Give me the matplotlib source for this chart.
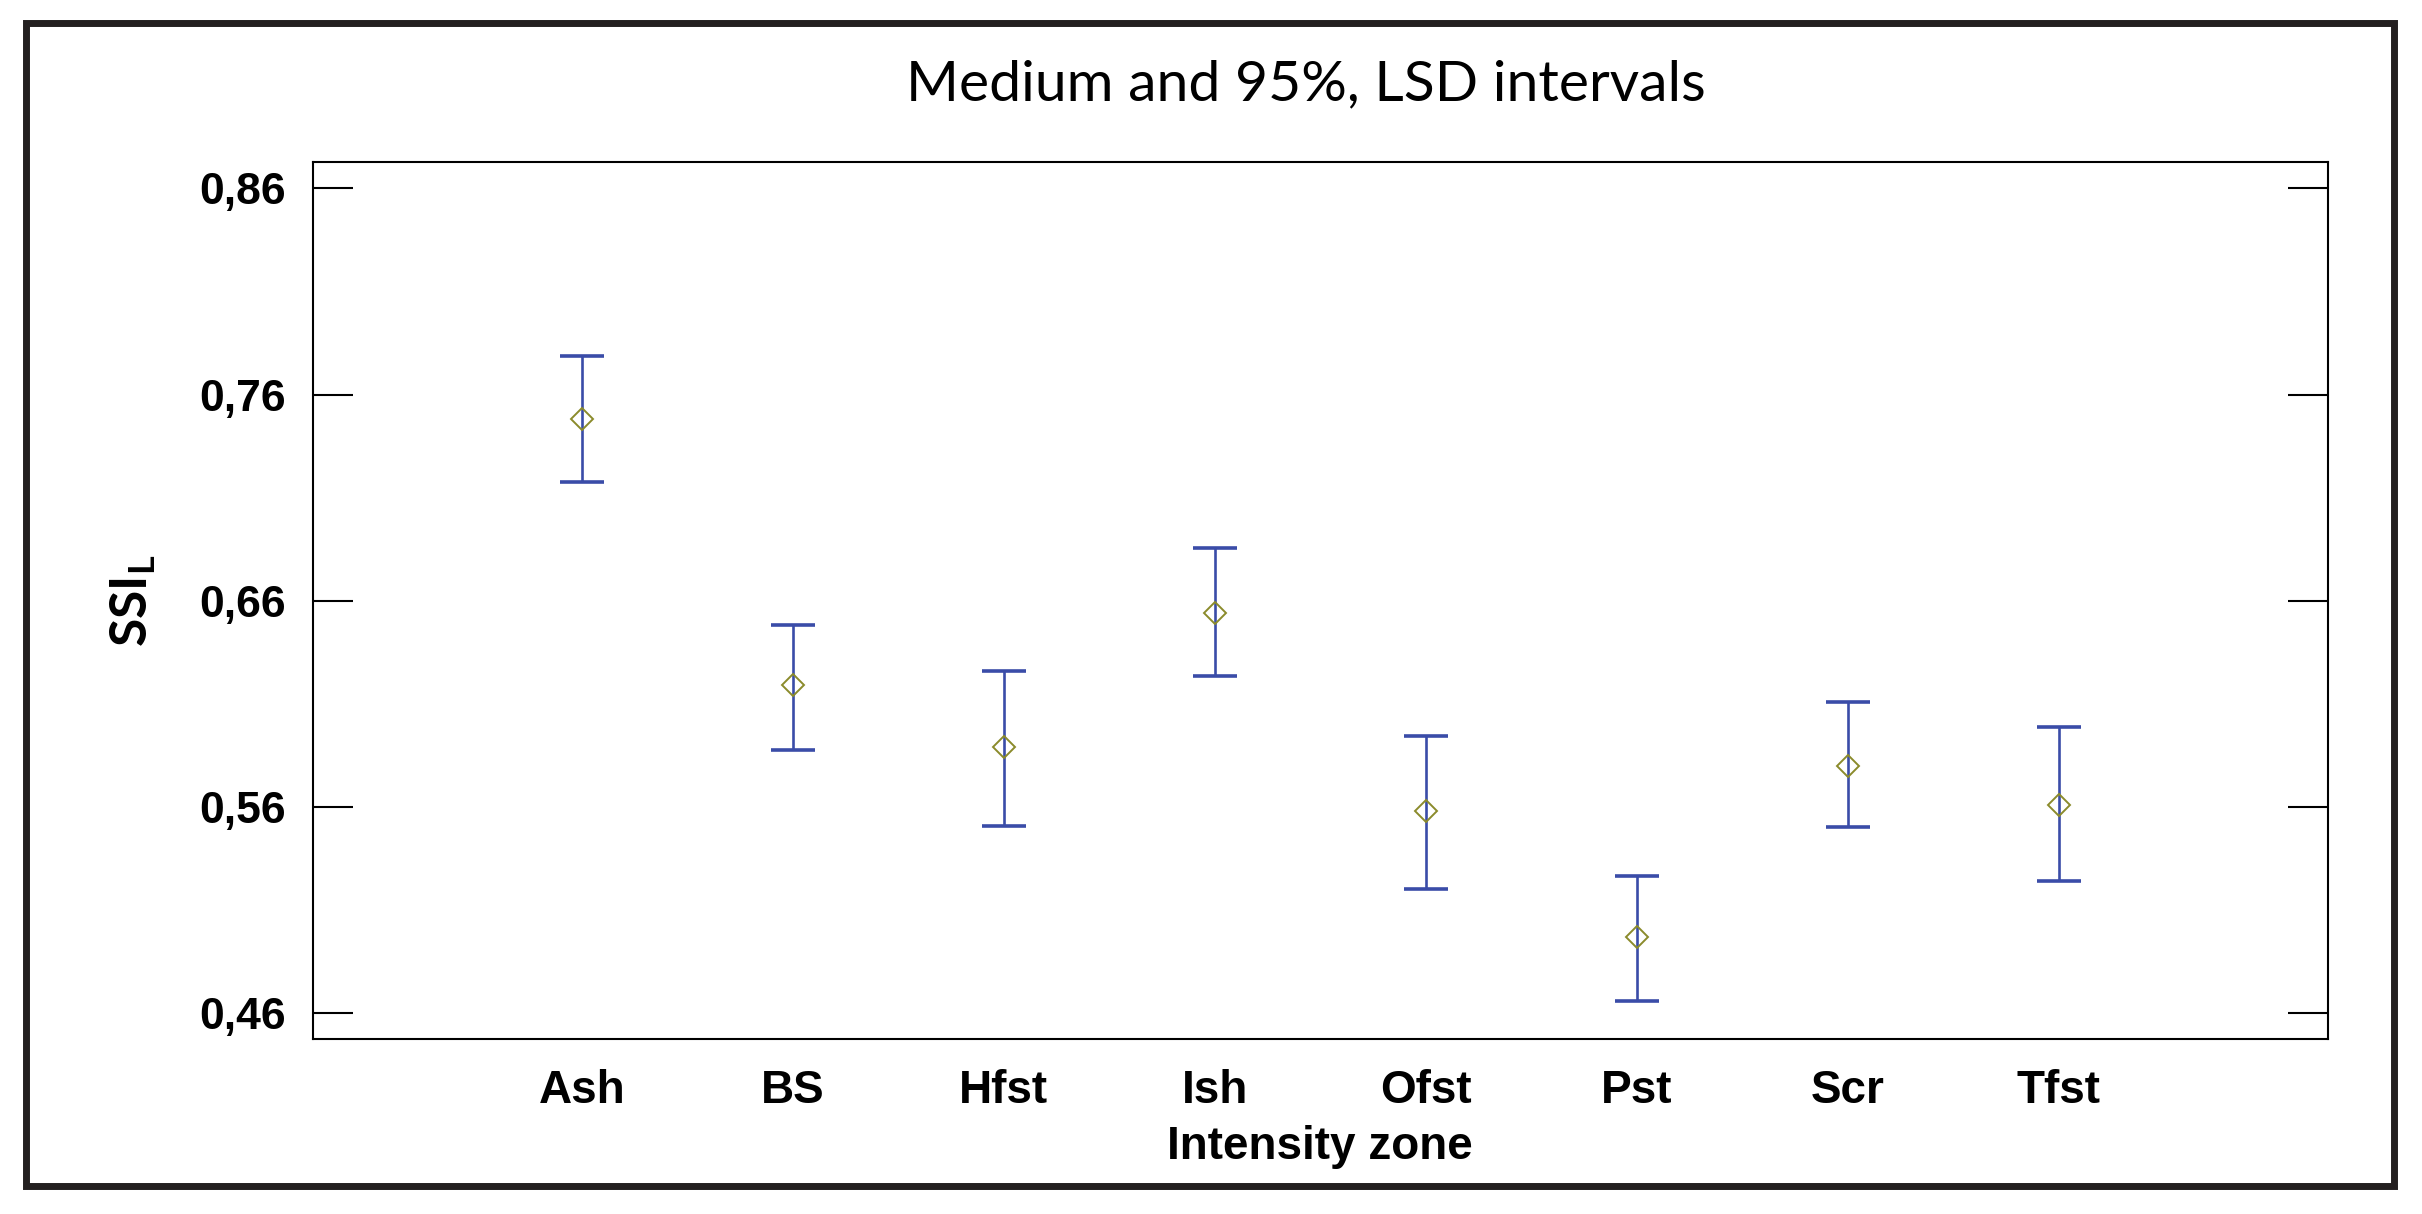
"""Means with 95% LSD intervals of SSI_L per intensity zone."""

import matplotlib

matplotlib.use("Agg")
import matplotlib.pyplot as plt
from matplotlib.patches import Rectangle
from matplotlib.ticker import FixedLocator, FuncFormatter

zones = ["Ash", "BS", "Hfst", "Ish", "Ofst", "Pst", "Scr", "Tfst"]
means = [0.748, 0.619, 0.589, 0.654, 0.558, 0.497, 0.580, 0.561]
lower = [0.7175, 0.5876, 0.551, 0.6234, 0.5204, 0.466, 0.5503, 0.5242]
upper = [0.7787, 0.648, 0.6257, 0.6854, 0.5943, 0.5264, 0.6107, 0.5988]
y_ticks = [0.46, 0.56, 0.66, 0.76, 0.86]

plt.rcParams["mathtext.fontset"] = "custom"
plt.rcParams["mathtext.bf"] = "Lato:bold"
plt.rcParams["mathtext.rm"] = "Lato:bold"

fig = plt.figure(figsize=(24.22, 12.14), dpi=100)
ax = fig.add_axes([0.1291, 0.1442, 0.9612 - 0.1291, 0.8663 - 0.1442])

positions = list(range(1, len(zones) + 1))
err_low = [m - lo for m, lo in zip(means, lower)]
err_high = [hi - m for m, hi in zip(means, upper)]
ax.errorbar(positions, means, yerr=[err_low, err_high], fmt="none",
            ecolor="#3a4ca8", elinewidth=1.9, capsize=16, capthick=2.6)
ax.plot(positions, means, linestyle="none", marker="D", markersize=11,
        markerfacecolor="none", markeredgecolor="#8b8b2b", markeredgewidth=1.4)

ax.set_xlim(-0.275, 9.275)
ax.set_ylim(0.4475, 0.8726)
ax.set_xticks(positions)
ax.set_xticklabels(zones, fontfamily="Liberation Sans", fontweight="bold", fontsize=33)
ax.yaxis.set_major_locator(FixedLocator(y_ticks))
ax.yaxis.set_major_formatter(FuncFormatter(lambda v, _: f"{v:.2f}".replace(".", ",")))
for label in ax.get_yticklabels():
    label.set_fontfamily("Liberation Sans")
    label.set_fontweight("bold")
    label.set_fontsize(32)

ax.tick_params(axis="x", length=0, pad=22)
ax.tick_params(axis="y", direction="in", length=29, width=1.5, pad=19,
               left=True, right=True)
for spine in ax.spines.values():
    spine.set_linewidth(1.5)

ax.set_xlabel("Intensity zone", fontfamily="Liberation Sans", fontweight="bold",
              fontsize=33, labelpad=8)
ax.set_ylabel(r"SSI$_{\mathbf{L}}$", fontfamily="Lato", fontweight="bold",
              fontsize=37, labelpad=30)
fig.text(0.539, 1 - 85 / 1214, "Medium and 95%, LSD intervals", fontfamily="Lato",
         fontsize=41, ha="center", va="center")

frame = Rectangle((26.5 / 2422, 1 - 1185.5 / 1214), (2393.5 - 26.5) / 2422,
                  (1185.5 - 22.5) / 1214, transform=fig.transFigure, fill=False,
                  edgecolor="#231f20", linewidth=5.0)
fig.patches.append(frame)

fig.savefig("out.png", dpi=100)
